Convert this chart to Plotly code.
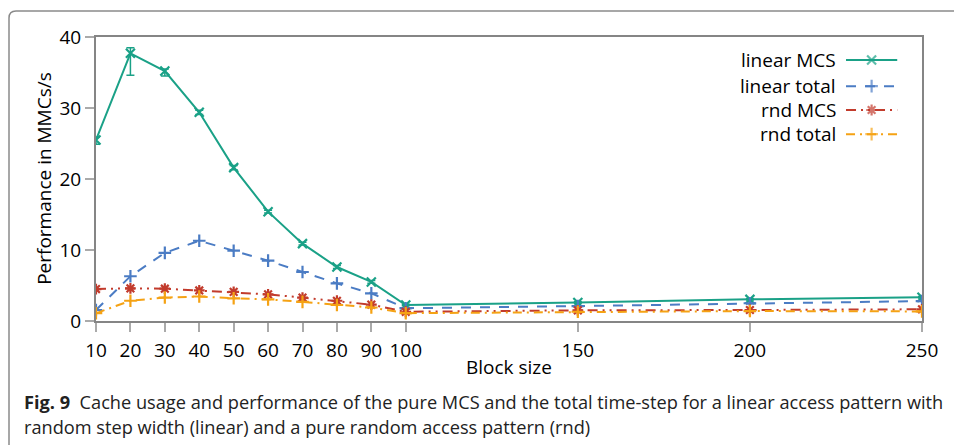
import plotly.graph_objects as go

block_size = [10, 20, 30, 40, 50, 60, 70, 80, 90, 100, 150, 200, 250]
linear_mcs = [25.5, 37.7, 35.2, 29.4, 21.6, 15.4, 10.9, 7.6, 5.5, 2.25, 2.6, 3.05, 3.35]
linear_mcs_err_plus = [0.4, 0.8, 0.3, 0.3, 0.3, 0.2, 0.2, 0.2, 0.2, 0.1, 0.1, 0.1, 0.1]
linear_mcs_err_minus = [0.6, 3.1, 0.7, 0.3, 0.3, 0.2, 0.2, 0.2, 0.2, 0.1, 0.1, 0.1, 0.1]
linear_total = [1.55, 6.3, 9.6, 11.3, 9.9, 8.5, 6.9, 5.3, 3.9, 1.8, 2.1, 2.5, 2.8]
rnd_mcs = [4.5, 4.6, 4.55, 4.3, 4.1, 3.75, 3.3, 2.85, 2.3, 1.3, 1.5, 1.55, 1.65]
rnd_total = [1.1, 2.85, 3.3, 3.45, 3.2, 3.05, 2.7, 2.25, 1.9, 1.1, 1.3, 1.4, 1.35]
x_ticks = [10, 20, 30, 40, 50, 60, 70, 80, 90, 100, 150, 200, 250]
y_ticks = [0, 10, 20, 30, 40]

names = ["linear MCS", "linear total", "rnd MCS", "rnd total"]
colors = ["#1aa187", "#4b7cc4", "#c23b2c", "#f5a214"]
dashes = ["solid", "10px,9px", "10px,5px,2px,5px,2px,5px", "9px,5px,2px,5px"]
symbols = ["x-thin-open", "cross-thin-open", "asterisk-open", "cross-thin-open"]
series = [linear_mcs, linear_total, rnd_mcs, rnd_total]

FONT = "Open Sans"
fig = go.Figure()

for i in range(4):
    kw = {}
    if i == 0:
        kw["error_y"] = dict(type="data", array=linear_mcs_err_plus,
                             arrayminus=linear_mcs_err_minus, color=colors[0],
                             thickness=1.5, width=4)
    fig.add_trace(go.Scatter(
        x=block_size, y=series[i], mode="lines+markers", name=names[i],
        line=dict(color=colors[i], width=2, dash=dashes[i]),
        marker=dict(symbol=symbols[i], size=9, color=colors[i],
                    line=dict(color=colors[i], width=2.2)),
        showlegend=False, **kw))

# custom legend (text left of sample)
rows = [0.919, 0.827, 0.743, 0.658]
for i in range(4):
    fig.add_trace(go.Scatter(
        x=[0.908, 0.939, 0.970], y=[rows[i]] * 3, xaxis="x2", yaxis="y2",
        mode="lines+markers", showlegend=False, hoverinfo="skip",
        line=dict(color=colors[i], width=2, dash=dashes[i]),
        marker=dict(symbol=symbols[i], size=[0, 9, 0], color=colors[i],
                    line=dict(color=colors[i], width=2.2))))
    fig.add_annotation(x=0.898, y=rows[i], xref="paper", yref="paper",
                       text=names[i], showarrow=False, xanchor="right",
                       yanchor="middle", font=dict(size=19, color="black", family=FONT))

fig.update_layout(
    width=954, height=445,
    margin=dict(l=96, r=32, t=37, b=124),
    paper_bgcolor="white", plot_bgcolor="white",
    font=dict(family=FONT, size=18, color="black"),
    xaxis=dict(range=[10, 250], tickvals=x_ticks, ticks="outside", ticklen=9,
               tickcolor="#aaaaaa", tickwidth=1.5, showline=True, linecolor="#858585",
               linewidth=2, mirror=True, showgrid=False, zeroline=False,
               tickfont=dict(size=19), ticklabelstandoff=2),
    yaxis=dict(range=[0, 40], tickvals=y_ticks, ticks="outside", ticklen=9,
               tickcolor="#aaaaaa", tickwidth=1.5, showline=True, linecolor="#858585",
               linewidth=2, mirror=True, showgrid=False, zeroline=False,
               tickfont=dict(size=19)),
    xaxis2=dict(range=[0, 1], overlaying="x", visible=False, fixedrange=True),
    yaxis2=dict(range=[0, 1], overlaying="y", visible=False, fixedrange=True),
)

fig.add_annotation(x=0.5, y=-0.162, xref="paper", yref="paper", text="Block size",
                   showarrow=False, xanchor="center", yanchor="middle",
                   font=dict(size=19, family=FONT))
fig.add_annotation(x=-0.063, y=0.504, xref="paper", yref="paper",
                   text="Performance in MMCs/s", textangle=-90, showarrow=False,
                   xanchor="center", yanchor="middle", font=dict(size=19, family=FONT))

fig.add_annotation(x=-0.0896, y=-0.285, xref="paper", yref="paper",
                   text="<b>Fig. 9</b>  Cache usage and performance of the pure MCS and the total time-step for a linear access pattern with",
                   showarrow=False, xanchor="left", yanchor="middle",
                   font=dict(size=18.2, family=FONT, color="#222"))
fig.add_annotation(x=-0.0896, y=-0.373, xref="paper", yref="paper",
                   text="random step width (linear) and a pure random access pattern (rnd)",
                   showarrow=False, xanchor="left", yanchor="middle",
                   font=dict(size=18.2, family=FONT, color="#222"))

# outer rounded frame
def px_x(p):
    return (p - 96) / 826
def px_y(p):
    return (321 - p) / 284
x0, ytop, r = 9, 11, 7
path = (f"M {px_x(x0)},{px_y(450)} L {px_x(x0)},{px_y(ytop + r)} "
        f"Q {px_x(x0)},{px_y(ytop)} {px_x(x0 + r)},{px_y(ytop)} L {px_x(960)},{px_y(ytop)}")
fig.add_shape(type="path", path=path, xref="paper", yref="paper",
              line=dict(color="#8a8a8a", width=1.5))

fig.write_html("out.html")
